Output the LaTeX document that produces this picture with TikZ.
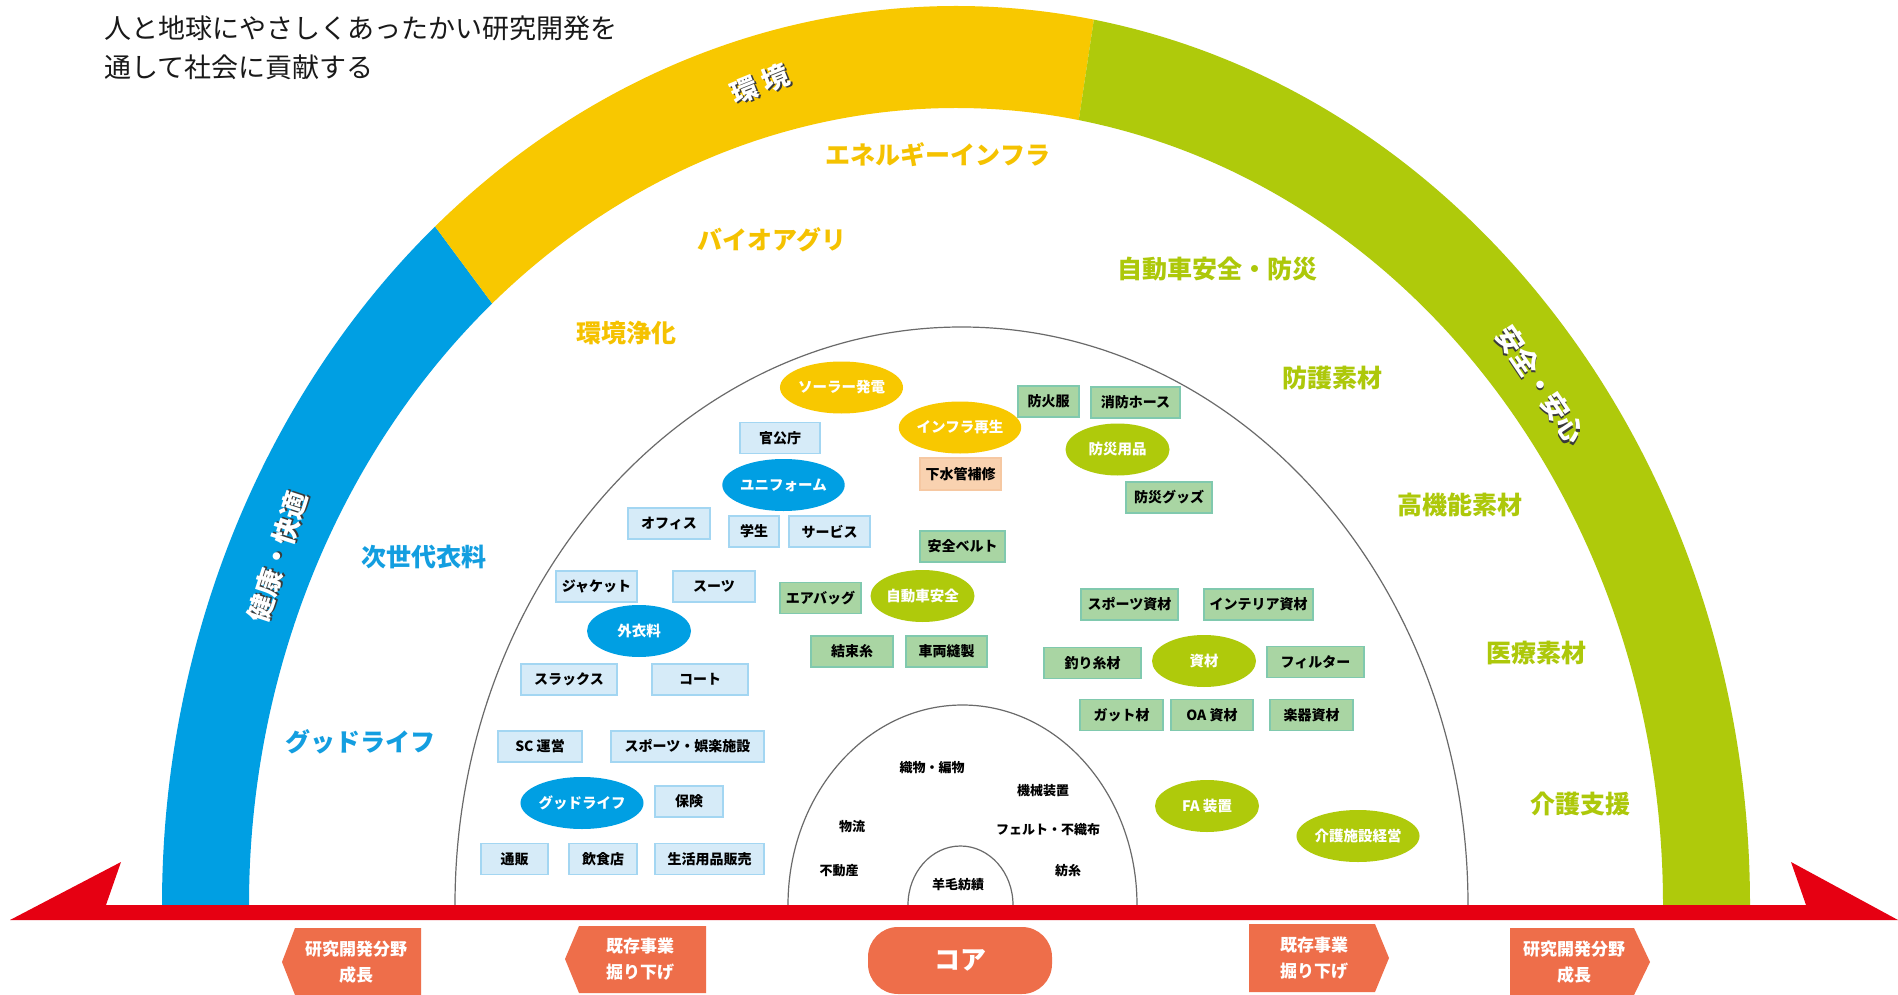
\documentclass[tikz,border=0pt]{standalone}
\usepackage{fontspec}
\setmainfont{Noto Sans CJK JP}
\usetikzlibrary{shapes.geometric,calc}
\newcommand\myfs[1]{\fontsize{#1}{#1}\selectfont}
\newcommand\shadowtext[1]{\rlap{\textcolor{shadowgray}{\hspace*{1.6pt}\raisebox{-1.6pt}{#1}}}#1}
\definecolor{bandblue}{HTML}{009FE3}
\definecolor{bandyellow}{HTML}{F8C800}
\definecolor{bandgreen}{HTML}{AFCA0B}
\definecolor{txtyellow}{HTML}{F5C200}
\definecolor{txtblue}{HTML}{139EE0}
\definecolor{txtgreen}{HTML}{ADC80A}
\definecolor{boxblue}{HTML}{D6EBF8}
\definecolor{boxblueline}{HTML}{A3D6F2}
\definecolor{boxgreen}{HTML}{A9D5A3}
\definecolor{boxgreenline}{HTML}{80C9AE}
\definecolor{peach}{HTML}{F9D2B0}
\definecolor{peachline}{HTML}{F6C8A2}
\definecolor{tagorange}{HTML}{EE6E4A}
\definecolor{arrowred}{HTML}{E60012}
\definecolor{arcgray}{HTML}{6A6A6A}
\definecolor{shadowgray}{HTML}{3A3A3A}
\begin{document}
\begin{tikzpicture}[x=1pt,y=-1pt,
  bbox/.style={draw=boxblueline, fill=boxblue, line width=1.3pt, minimum height=31pt, inner sep=0pt, font=\myfs{14}\bfseries, text=black},
  gbox/.style={bbox, draw=boxgreenline, fill=boxgreen},
  pbox/.style={bbox, draw=peachline, fill=peach},
  ell/.style={ellipse, minimum width=104pt, minimum height=52pt, inner sep=0pt, text=white, font=\myfs{14.5}\bfseries},
  bell/.style={ell, fill=bandblue},
  yell/.style={ell, fill=bandyellow},
  gell/.style={ell, fill=bandgreen},
  region/.style={font=\myfs{25}\bfseries, inner sep=0pt},
  coretext/.style={font=\myfs{13}\bfseries, inner sep=0pt, text=black},
  band/.style={font=\myfs{27}\bfseries, text=white, inner sep=0pt},
  arcline/.style={draw=arcgray, line width=1.2pt},
  tag/.style={fill=tagorange},
  tagtext/.style={text=white, font=\fontsize{17}{26}\selectfont\bfseries, align=center, inner sep=0pt},
  title/.style={font=\myfs{27}, inner sep=0pt, anchor=west, text=black!90}
]
\fill[white] (0,0) rectangle (1898,995);
\useasboundingbox (0,0) rectangle (1898,995);
\coordinate (C) at (956,905);

% outer coloured bands
\fill[bandblue] ([shift={(180:794 and 899)}]C) arc[start angle=180,end angle=229,x radius=794,y radius=899]
  -- ([shift={(229:707 and 797)}]C) arc[start angle=229,end angle=180,x radius=707,y radius=797] -- cycle;
\fill[bandyellow] ([shift={(229:794 and 899)}]C) arc[start angle=229,end angle=280,x radius=794,y radius=899]
  -- ([shift={(280:707 and 797)}]C) arc[start angle=280,end angle=229,x radius=707,y radius=797] -- cycle;
\fill[bandgreen] ([shift={(280:794 and 899)}]C) arc[start angle=280,end angle=360,x radius=794,y radius=899]
  -- ([shift={(360:707 and 797)}]C) arc[start angle=360,end angle=280,x radius=707,y radius=797] -- cycle;

% band labels
\node[band, rotate=72] (kk) at (278,557) {\shadowtext{健康・快適}};
\node[band, rotate=22] (ky) at (760,85) {\shadowtext{環\ 境}};
\node[band, rotate=-56] (aa) at (1540,385) {\shadowtext{安全・安心}};

% inner arcs
\draw[arcline] (455,905) arc[start angle=180,end angle=360,x radius=506.5,y radius=578];
\draw[arcline] (788,905) arc[start angle=180,end angle=360,x radius=174.5,y radius=200];
\draw[arcline] (908,905) arc[start angle=180,end angle=360,x radius=52.5,y radius=59];

% title
\node[title] (t1) at (104,28) {人と地球にやさしくあったかい研究開発を};
\node[title] (t2) at (104,67) {通して社会に貢献する};

% region labels
\node[region, text=txtyellow] (r1) at (938,155) {エネルギーインフラ};
\node[region, text=txtyellow] (r2) at (772,240) {バイオアグリ};
\node[region, text=txtyellow] (r3) at (626,333) {環境浄化};
\node[region, text=txtblue] (r4) at (424,557) {次世代衣料};
\node[region, text=txtblue] (r5) at (360,742) {グッドライフ};
\node[region, text=txtgreen] (r6) at (1217,269) {自動車安全・防災};
\node[region, text=txtgreen] (r7) at (1332,378) {防護素材};
\node[region, text=txtgreen] (r8) at (1460,505) {高機能素材};
\node[region, text=txtgreen] (r9) at (1536,653) {医療素材};
\node[region, text=txtgreen] (r10) at (1580,804) {介護支援};

% blue items
\node[bbox, minimum width=80pt] (b1) at (780,438) {官公庁};
\node[bbox, minimum width=82pt] (b2) at (669,523.5) {オフィス};
\node[bbox, minimum width=50pt] (b3) at (754,531.5) {学生};
\node[bbox, minimum width=81pt] (b4) at (829.5,531.5) {サービス};
\node[bbox, minimum width=81pt] (b5) at (596.5,586.5) {ジャケット};
\node[bbox, minimum width=82pt] (b6) at (714,586.5) {スーツ};
\node[bbox, minimum width=96pt] (b7) at (569,679.5) {スラックス};
\node[bbox, minimum width=96pt] (b8) at (700,679.5) {コート};
\node[bbox, minimum width=84pt] (b9) at (540,746.5) {SC 運営};
\node[bbox, minimum width=153pt] (b10) at (687.5,746.5) {スポーツ・娯楽施設};
\node[bbox, minimum width=68pt] (b11) at (689,801.5) {保険};
\node[bbox, minimum width=67pt] (b12) at (514.5,859) {通販};
\node[bbox, minimum width=68pt] (b13) at (603,859) {飲食店};
\node[bbox, minimum width=109pt] (b14) at (709.5,859) {生活用品販売};
\node[bell] (e1) at (783.5,485) {ユニフォーム};
\node[bell] (e2) at (639,631) {外衣料};
\node[bell] (e3) at (582,803) {グッドライフ};

% yellow items
\node[yell] (e4) at (841.5,387.5) {ソーラー発電};
\node[yell] (e5) at (960,427.5) {インフラ再生};
\node[pbox, minimum width=81pt, minimum height=32pt] (p1) at (960.5,474) {下水管補修};

% green items
\node[gbox, minimum width=61pt] (g1) at (1048.5,401.5) {防火服};
\node[gbox, minimum width=89pt] (g2) at (1135.5,402.5) {消防ホース};
\node[gbox, minimum width=86pt] (g3) at (1169,497.5) {防災グッズ};
\node[gbox, minimum width=85pt] (g4) at (962.5,546.5) {安全ベルト};
\node[gbox, minimum width=81pt] (g5) at (820.5,598) {エアバッグ};
\node[gbox, minimum width=82pt] (g6) at (852,651.5) {結束糸};
\node[gbox, minimum width=81pt] (g7) at (946.5,651.5) {車両縫製};
\node[gbox, minimum width=97pt] (g8) at (1129.5,604.5) {スポーツ資材};
\node[gbox, minimum width=109pt] (g9) at (1258.5,604.5) {インテリア資材};
\node[gbox, minimum width=97pt] (g10) at (1092.5,663) {釣り糸材};
\node[gbox, minimum width=97pt] (g11) at (1315.5,662) {フィルター};
\node[gbox, minimum width=83pt] (g12) at (1121.5,715) {ガット材};
\node[gbox, minimum width=82pt] (g13) at (1212,715) {OA 資材};
\node[gbox, minimum width=83pt] (g14) at (1311.5,715) {楽器資材};
\node[gell] (e6) at (1117.5,449.5) {防災用品};
\node[gell] (e7) at (922.5,596) {自動車安全};
\node[gell] (e8) at (1204,661) {資材};
\node[gell] (e9) at (1207,806) {FA 装置};
\node[gell] (e10) at (1358,836) {介護施設経営};

% core texts
\node[coretext] (c1) at (932,768) {織物・編物};
\node[coretext] (c2) at (1043,791) {機械装置};
\node[coretext] (c3) at (852,827) {物流};
\node[coretext] (c4) at (1048,830) {フェルト・不織布};
\node[coretext] (c5) at (839,871) {不動産};
\node[coretext] (c6) at (1068,871) {紡糸};
\node[coretext] (c7) at (958,885) {羊毛紡績};

% red axis arrow
\fill[arrowred] (10,920) -- (121,862) -- (106,905) -- (1806,905) -- (1791,862) -- (1898,920) -- cycle;

% bottom tags
\fill[tag] (282,962) -- (295,928) -- (421,928) -- (421,995) -- (295,995) -- cycle;
\node[tagtext] (l1) at (356,962) {研究開発分野\\成長};
\fill[tag] (565,959) -- (579,926) -- (706,926) -- (706,993) -- (579,993) -- cycle;
\node[tagtext] (l2) at (640,959) {既存事業\\掘り下げ};
\fill[tag, rounded corners=30pt] (868,927) rectangle (1052,994);
\node[text=white, font=\myfs{26}\bfseries, inner sep=0pt] (core) at (960,960) {コア};
\fill[tag] (1249,924) -- (1375,924) -- (1389,958) -- (1375,992) -- (1249,992) -- cycle;
\node[tagtext] (r2t) at (1314,958) {既存事業\\掘り下げ};
\fill[tag] (1510,928) -- (1634,928) -- (1650,962) -- (1634,995) -- (1510,995) -- cycle;
\node[tagtext] (r1t) at (1574,962) {研究開発分野\\成長};
\end{tikzpicture}
\end{document}
